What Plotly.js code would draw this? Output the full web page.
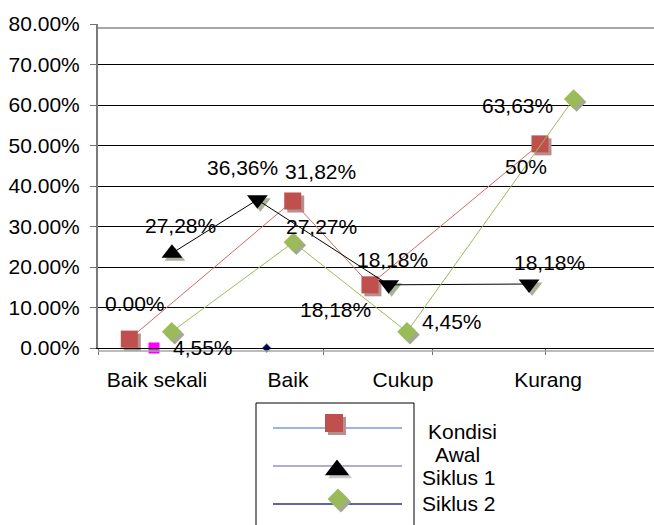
<!DOCTYPE html>
<html><head><meta charset="utf-8">
<script src="https://cdn.plot.ly/plotly-3.0.1.min.js"></script>
<style>html,body{margin:0;padding:0;background:#fff}#chart{width:654px;height:525px}</style>
</head><body><div id="chart"></div>
<script>
// ---- data ----
const categories = ['Baik sekali', 'Baik', 'Cukup', 'Kurang'];
const seriesNames = ['Kondisi Awal', 'Siklus 1', 'Siklus 2'];

const kondisiX = [-0.213, 1.044, 1.638, 2.946];
const kondisiY = [0.022, 0.363, 0.156, 0.504];
const kondisiLabels = ['0.00%', '31,82%', '18,18%', '50%'];

const siklus1X = [0.115, 0.772, 1.782, 2.862];
const siklus1Y = [0.234, 0.366, 0.156, 0.158];
const siklus1Labels = ['27,28%', '36,36%', '18,18%', '18,18%'];

const siklus2X = [0.113, 1.049, 1.923, 3.205];
const siklus2Y = [0.040, 0.261, 0.040, 0.615];
const siklus2Labels = ['4,55%', '27,27%', '4,45%', '63,63%'];

const extraMagentaX = [-0.023];
const extraMagentaY = [0];
const extraNavyX = [-0.023, 0.844];
const extraNavyY = [0, 0];

const yTickVals = [0, 0.1, 0.2, 0.3, 0.4, 0.5, 0.6, 0.7, 0.8];

// ---- layout helpers ----
const FONT = 'Liberation Sans, Arial, Helvetica, sans-serif';
const FS = 21;
const X_RANGE = [-0.4538, 3.8231];
const Y_RANGE = [0, 0.8];
const uX = (X_RANGE[1] - X_RANGE[0]) / 556;
const uY = (Y_RANGE[1] - Y_RANGE[0]) / 324;
const SH = 3; // shadow offset px
const catTickPos = [0, 1.008, 1.892, 3.008];
const catTickMarks = [-0.4538, 1.277, 2.123, 2.985];

const RED = '#C0504D', GREEN = '#9BBB59', BLACK = '#000000';
const styles = [
  {sym: 'square', size: 17, color: RED, line: '#d06a66', shadow: '#b68f8f'},
  {sym: ['triangle-up', 'triangle-down', 'triangle-down', 'triangle-down'], size: 18, color: BLACK, line: BLACK, shadow: '#a7b393'},
  {sym: 'diamond', size: 15, color: GREEN, line: GREEN, shadow: '#a3a895'}
];
const seriesX = [kondisiX, siklus1X, siklus2X];
const seriesY = [kondisiY, siklus1Y, siklus2Y];
const seriesLabels = [kondisiLabels, siklus1Labels, siklus2Labels];

const traces = [];
// shadows (base axes, shifted)
for (let i = 0; i < 3; i++) {
  traces.push({
    x: seriesX[i], y: seriesY[i], xaxis: 'x', yaxis: 'y', type: 'scatter', mode: 'markers',
    marker: {symbol: styles[i].sym, size: styles[i].size, color: styles[i].shadow, line: {width: 0}},
    hoverinfo: 'skip', showlegend: false, cliponaxis: false
  });
}
// main series (overlay axes)
for (let i = 0; i < 3; i++) {
  traces.push({
    x: seriesX[i], y: seriesY[i], xaxis: 'x2', yaxis: 'y2', type: 'scatter', mode: 'lines+markers',
    name: seriesNames[i],
    line: {color: styles[i].line, width: 1},
    marker: {symbol: styles[i].sym, size: styles[i].size, color: styles[i].color, line: {width: 0}},
    showlegend: false, cliponaxis: false
  });
}
traces.push({
  x: extraNavyX, y: extraNavyY, xaxis: 'x2', yaxis: 'y2', type: 'scatter', mode: 'markers',
  marker: {symbol: 'diamond', size: 7, color: '#000080', line: {width: 1, color: '#9BBB59'}},
  showlegend: false, cliponaxis: false
});
traces.push({
  x: extraMagentaX, y: extraMagentaY, xaxis: 'x2', yaxis: 'y2', type: 'scatter', mode: 'markers',
  marker: {symbol: 'square', size: 11, color: '#FF00FF', line: {width: 0}},
  showlegend: false, cliponaxis: false
});

// legend markers (pixel-unit axis x3/y3)
const legendMarkers = [
  {x: 334, y: 423, sym: 'square', size: 18, color: RED, shadow: '#b68f8f'},
  {x: 337, y: 470, sym: 'triangle-up', size: 21, color: BLACK, shadow: '#c8c8c8'},
  {x: 338, y: 499, sym: 'diamond', size: 16, color: GREEN, shadow: '#a3a895'}
];
legendMarkers.forEach(m => {
  traces.push({x: [m.x + SH], y: [m.y + SH], xaxis: 'x3', yaxis: 'y3', type: 'scatter', mode: 'markers',
    marker: {symbol: m.sym, size: m.size, color: m.shadow}, hoverinfo: 'skip', showlegend: false, cliponaxis: false});
  traces.push({x: [m.x], y: [m.y], xaxis: 'x3', yaxis: 'y3', type: 'scatter', mode: 'markers',
    marker: {symbol: m.sym, size: m.size, color: m.color}, hoverinfo: 'skip', showlegend: false, cliponaxis: false});
});

// data labels
const labelOffsets = [
  [[6, -36], [28, -29], [-34, 25], [-14, 23]],
  [[9, -28], [-15, -32], [4, -25], [20, -22]],
  [[31, 16], [28, -16], [45, -10], [-56, 7]]
];
const annotations = [];
for (let i = 0; i < 3; i++) {
  for (let j = 0; j < 4; j++) {
    annotations.push({
      x: seriesX[i][j], y: seriesY[i][j], xref: 'x2', yref: 'y2', text: seriesLabels[i][j],
      showarrow: false, xshift: labelOffsets[i][j][0], yshift: -labelOffsets[i][j][1],
      font: {family: FONT, size: FS, color: '#000'}
    });
  }
}
// legend texts
[['Kondisi', 462, 431], ['Awal', 457, 454], ['Siklus 1', 459, 477], ['Siklus 2', 459, 503]].forEach(t => {
  annotations.push({x: t[1], y: t[2], xref: 'x3', yref: 'y3', text: t[0], showarrow: false,
    font: {family: FONT, size: FS, color: '#000'}});
});

const shapes = [
  // plot-area border lines (gray)
  {type: 'line', xref: 'x3', yref: 'y3', x0: 98, x1: 654, y0: 28, y1: 28, line: {color: '#a6a6a6', width: 2}, layer: 'below'},
  {type: 'line', xref: 'x3', yref: 'y3', x0: 98, x1: 654, y0: 351, y1: 351, line: {color: '#a6a6a6', width: 1.5}, layer: 'below'},
  // legend box and lines
  {type: 'rect', xref: 'x3', yref: 'y3', x0: 256, x1: 414, y0: 403, y1: 530, line: {color: '#000', width: 1}},
  {type: 'line', xref: 'x3', yref: 'y3', x0: 273, x1: 402, y0: 428, y1: 428, line: {color: '#7b98e6', width: 1.5}, layer: 'below'},
  {type: 'line', xref: 'x3', yref: 'y3', x0: 273, x1: 402, y0: 466, y1: 466, line: {color: '#9494c4', width: 1.5}, layer: 'below'},
  {type: 'line', xref: 'x3', yref: 'y3', x0: 273, x1: 402, y0: 504, y1: 504, line: {color: '#2e2e8c', width: 1.5}, layer: 'below'}
];

const layout = {
  width: 654, height: 525,
  margin: {l: 98, r: 0, t: 24, b: 0, pad: 0},
  paper_bgcolor: '#fff', plot_bgcolor: 'rgba(0,0,0,0)',
  font: {family: FONT, size: FS, color: '#000'},
  showlegend: false,
  xaxis: {domain: [0, 1], anchor: 'y', range: [X_RANGE[0] - SH * uX, X_RANGE[1] - SH * uX], visible: false, fixedrange: true},
  yaxis: {domain: [177 / 501, 1], anchor: 'x', range: [Y_RANGE[0] + SH * uY, Y_RANGE[1] + SH * uY], visible: false, fixedrange: true},
  xaxis2: {
    overlaying: 'x', anchor: 'y2', range: X_RANGE, showgrid: false, zeroline: false,
    tickmode: 'array', tickvals: catTickPos, ticktext: categories, ticks: '',
    minor: {tickmode: 'array', tickvals: catTickMarks, ticks: 'outside', ticklen: 6, tickcolor: '#707070', tickwidth: 1, showgrid: false},
    showline: true, linecolor: '#000', linewidth: 1,
    tickfont: {family: FONT, size: FS, color: '#000'}, ticklabelstandoff: 13
  },
  yaxis2: {
    overlaying: 'y', anchor: 'x2', range: Y_RANGE, tickmode: 'array', tickvals: yTickVals,
    tickformat: '.2%', showgrid: true, gridcolor: '#000', gridwidth: 1, zeroline: false,
    ticks: 'outside', ticklen: 6, tickcolor: '#707070', showline: true, linecolor: '#7a7a7a', linewidth: 2,
    tickfont: {family: FONT, size: FS, color: '#000'}, ticklabelstandoff: 6
  },
  xaxis3: {domain: [0, 1], anchor: 'y3', range: [98, 654], visible: false, fixedrange: true},
  yaxis3: {domain: [0, 1], anchor: 'x3', range: [525, 24], visible: false, fixedrange: true},
  annotations: annotations,
  shapes: shapes
};

Plotly.newPlot('chart', traces, layout, {staticPlot: true, displayModeBar: false});
</script></body></html>
